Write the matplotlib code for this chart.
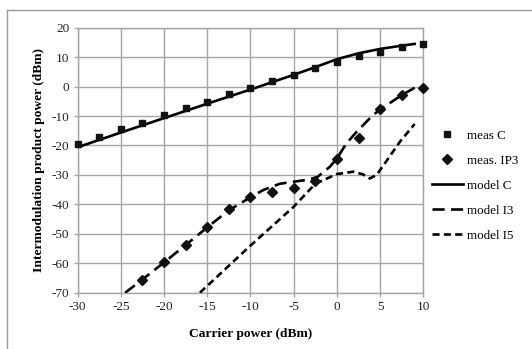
import matplotlib
matplotlib.use("Agg")
import matplotlib.pyplot as plt
from matplotlib.lines import Line2D

plt.rcParams['font.family'] = ['Liberation Serif', 'DejaVu Serif']
plt.rcParams['axes.unicode_minus'] = False

# measured points
meas_c_x = [-30, -27.5, -25, -22.5, -20, -17.5, -15, -12.5, -10, -7.5, -5, -2.5, 0, 2.5, 5, 7.5, 10]
meas_c_y = [-19.6, -17.1, -14.5, -12.3, -9.8, -7.2, -5.1, -2.6, -0.6, 1.8, 3.8, 6.3, 8.5, 10.4, 11.8, 13.4, 14.4]

meas_ip3_x = [-22.5, -20, -17.5, -15, -12.5, -10, -7.5, -5, -2.5, 0, 2.5, 5, 7.5, 10]
meas_ip3_y = [-65.7, -59.7, -53.8, -47.8, -41.7, -37.6, -35.9, -34.6, -32.0, -24.7, -17.4, -7.7, -2.9, -0.6]

# model curves
model_c_x = [-30, -25, -20, -15, -10, -5, -2.5, 0, 2.5, 5, 7.5, 9]
model_c_y = [-20.6, -15.6, -10.7, -5.8, -1.0, 4.0, 6.6, 9.3, 11.3, 12.8, 13.9, 14.5]

model_i3_x = [-24.5, -22.5, -20, -17.5, -15, -12.5, -10, -8.5, -6.6, -5, -3.5, -2.3, -0.8, 0, 1.1, 2.3, 4.2, 5.2, 7.5, 9]
model_i3_y = [-70, -65.5, -59.7, -53.8, -47.8, -42.0, -37.6, -35.1, -33.0, -32.3, -31.7, -30.8, -27.2, -24.4, -19.3, -15.3, -9.6, -7.4, -2.9, -0.4]

model_i5_x = [-15.85, -10, -5, -2.5, 0, 1.9, 3.0, 3.8, 4.6, 5.8, 7.3, 9]
model_i5_y = [-70, -54.0, -40.8, -33.0, -29.7, -28.9, -29.8, -31.2, -30.0, -25.0, -18.7, -12.7]

xticks = list(range(-30, 11, 5))
yticks = list(range(-70, 21, 10))

fig = plt.figure(figsize=(5.32, 3.49), dpi=100)
ax = fig.add_axes([0.146, 0.1613, 0.6497, 0.7593])

grid_col = '#a6a6a6'
ax.set_xlim(-30, 10)
ax.set_ylim(-70, 20)
ax.set_xticks(xticks)
ax.set_yticks(yticks)
ax.grid(True, color=grid_col, linewidth=1.0)
ax.set_axisbelow(True)
for s in ax.spines.values():
    s.set_color(grid_col)
    s.set_linewidth(1.0)
ax.tick_params(colors=grid_col, labelcolor='#222222', labelsize=9.5, length=3, width=1.0, pad=3)

ax.plot(meas_c_x, meas_c_y, linestyle='none', marker='s', markersize=4, color='#111111', label='meas C', clip_on=False, zorder=4)
ax.plot(meas_ip3_x, meas_ip3_y, linestyle='none', marker='D', markersize=4.6, color='#111111', label='meas. IP3', clip_on=False, zorder=4)
ax.plot(model_c_x, model_c_y, '-', color='black', linewidth=1.9, label='model C', zorder=3)
ax.plot(model_i3_x, model_i3_y, color='black', linewidth=1.9, dashes=(4.6, 2.4), label='model I3', zorder=3)
ax.plot(model_i5_x, model_i5_y, color='black', linewidth=1.9, dashes=(2.7, 1.6), label='model I5', zorder=3)

ax.set_xlabel('Carrier power (dBm)', fontsize=9.7, fontweight='bold', labelpad=11)
ax.set_ylabel('Intermodulation product power (dBm)', fontsize=9.7, fontweight='bold', labelpad=5)

fig.legend(loc='upper left', bbox_to_anchor=(0.812, 0.628), frameon=False, fontsize=9.4,
           handlelength=2.35, handletextpad=0.3, labelspacing=0.98, borderaxespad=0, borderpad=0)

# outer chart frame
fig.add_artist(Line2D([7/532, 7/532], [0, 1 - 10/349], color='#9a9a9a', linewidth=1.0))
fig.add_artist(Line2D([7/532, 1], [1 - 10/349, 1 - 10/349], color='#9a9a9a', linewidth=1.0))

fig.savefig('out.png', dpi=100)
